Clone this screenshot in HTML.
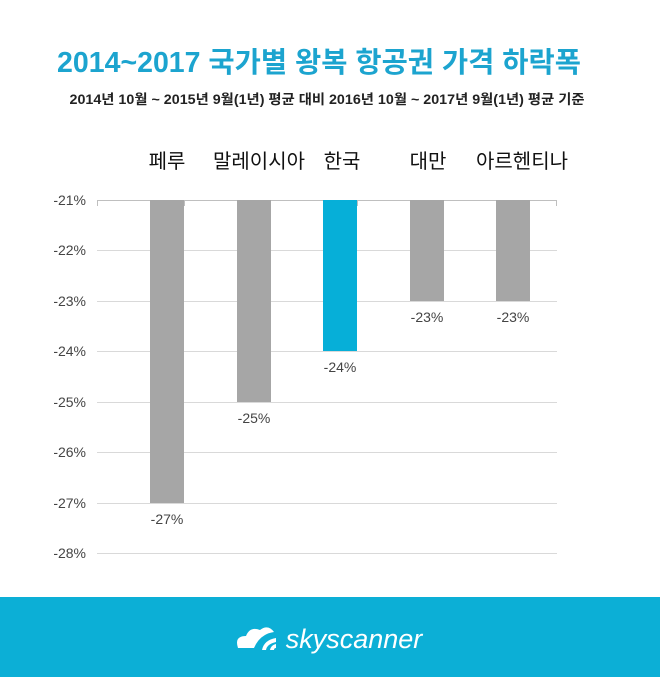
<!DOCTYPE html>
<html><head><meta charset="utf-8"><style>
body{margin:0;width:660px;height:677px;background:#fff;overflow:hidden;font-family:"Liberation Sans","Noto Sans CJK KR",sans-serif;}
</style></head><body>
<svg width="660" height="677" xmlns="http://www.w3.org/2000/svg" font-family="Liberation Sans, Noto Sans CJK KR, sans-serif">
<text x="319" y="72" text-anchor="middle" font-size="28.5" font-weight="bold" fill="#1ca4cf">2014~2017 국가별 왕복 항공권 가격 하락폭</text>
<text x="327" y="104" text-anchor="middle" font-size="13.5" font-weight="bold" fill="#222" textLength="515" lengthAdjust="spacingAndGlyphs">2014년 10월 ~ 2015년 9월(1년) 평균 대비 2016년 10월 ~ 2017년 9월(1년) 평균 기준</text>
<g font-size="20" fill="#111" text-anchor="middle">
<text x="167" y="168">페루</text><text x="259" y="168">말레이시아</text><text x="342" y="168">한국</text><text x="428" y="168">대만</text><text x="522" y="168">아르헨티나</text>
</g>
<g stroke="#d9d9d9" stroke-width="1">
<line x1="97" y1="250.5" x2="557" y2="250.5"/><line x1="97" y1="301.5" x2="557" y2="301.5"/><line x1="97" y1="351.5" x2="557" y2="351.5"/><line x1="97" y1="402.5" x2="557" y2="402.5"/><line x1="97" y1="452.5" x2="557" y2="452.5"/><line x1="97" y1="503.5" x2="557" y2="503.5"/><line x1="97" y1="553.5" x2="557" y2="553.5"/>
</g>
<g stroke="#bfbfbf"><line x1="97" y1="200.5" x2="557" y2="200.5"/>
<line x1="97.5" y1="200" x2="97.5" y2="206"/><line x1="184.5" y1="200" x2="184.5" y2="206"/><line x1="270.5" y1="200" x2="270.5" y2="206"/><line x1="357.5" y1="200" x2="357.5" y2="206"/><line x1="443.5" y1="200" x2="443.5" y2="206"/><line x1="556.5" y1="200" x2="556.5" y2="206"/></g>
<g fill="#a6a6a6">
<rect x="150" y="200" width="34" height="303"/><rect x="237" y="200" width="34" height="202"/>
<rect x="410" y="200" width="34" height="101"/><rect x="496" y="200" width="34" height="101"/></g>
<rect x="323" y="200" width="34" height="151" fill="#06afd8"/>
<g font-size="14" fill="#444" text-anchor="end">
<text x="86" y="205">-21%</text><text x="86" y="255">-22%</text><text x="86" y="306">-23%</text><text x="86" y="356">-24%</text><text x="86" y="407">-25%</text><text x="86" y="457">-26%</text><text x="86" y="508">-27%</text><text x="86" y="558">-28%</text></g>
<g font-size="14" fill="#444" text-anchor="middle">
<text x="167" y="524">-27%</text><text x="254" y="423">-25%</text><text x="340" y="372">-24%</text><text x="427" y="322">-23%</text><text x="513" y="322">-23%</text></g>
<rect x="0" y="597" width="660" height="80" fill="#0cafd6"/>
<g fill="#fff">
<path d="M238 648 q-4 -12 8 -12 q4 -10 14 -6 q8 -6 14 2 q-14 2 -20 16z"/>
<path d="M262 650 q2 -10 14 -12 l0 4 q-9 2 -10 8z M270 650 q1 -5 6 -6 l0 4 q-2 0 -2 2z"/>
</g>
<text x="354" y="648" text-anchor="middle" font-size="27" font-style="italic" fill="#fff">skyscanner</text>
</svg>
</body></html>
